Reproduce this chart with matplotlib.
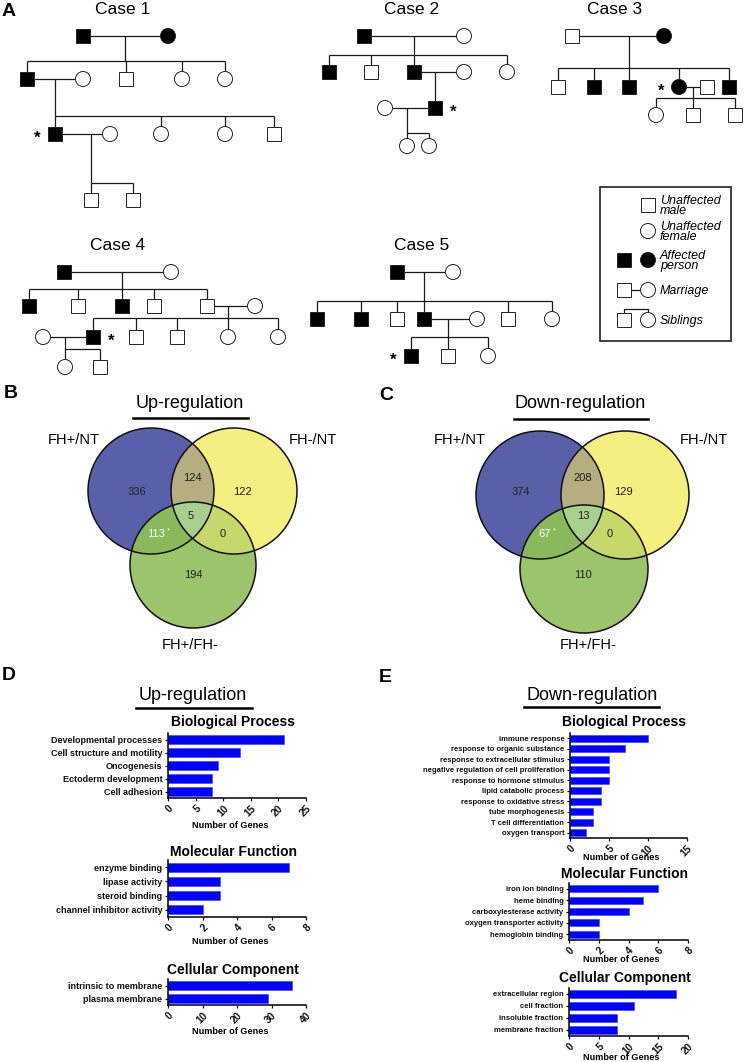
"""Pedigrees (A), Venn diagrams of DEGs (B, C) and GO bar charts (D, E)."""

import numpy as np
import matplotlib
matplotlib.use("Agg")
import matplotlib.pyplot as plt
from matplotlib.patches import Rectangle, Circle, Polygon

plt.rcParams["font.family"] = ["Liberation Sans", "DejaVu Sans"]

W, H = 744, 1062

# ---- pedigrees: (id, x, y, sex, affected); layout in pixels ----
CASE1_PEOPLE = [
    ("I1", 83, 36, "m", 1), ("I2", 168, 36, "f", 1),
    ("II1", 27, 79, "m", 1), ("II2", 83, 79, "f", 0), ("II3", 126, 79, "m", 0),
    ("II4", 182, 79, "f", 0), ("II5", 225, 79, "f", 0),
    ("III1", 55, 134, "m", 1), ("III2", 110, 134, "f", 0), ("III3", 161, 134, "f", 0),
    ("III4", 225, 134, "f", 0), ("III5", 274, 134, "m", 0),
    ("IV1", 91, 200, "m", 0), ("IV2", 133, 200, "m", 0),
]
CASE1_COUPLES = [("I1", "I2"), ("II1", "II2"), ("III1", "III2")]
CASE1_SIBS = [("I1", 61, ["II1", "II3", "II4", "II5"], 125),
              ("II1", 116, ["III1", "III3", "III4", "III5"], 55),
              ("III1", 183, ["IV1", "IV2"], 91)]

CASE2_PEOPLE = [
    ("I1", 364, 36, "m", 1), ("I2", 464, 36, "f", 0),
    ("II1", 329, 72, "m", 1), ("II2", 371, 72, "m", 0), ("II3", 414, 72, "m", 1),
    ("II4", 464, 72, "f", 0), ("II5", 507, 72, "f", 0),
    ("III1", 385, 108, "f", 0), ("III2", 435, 108, "m", 1),
    ("IV1", 407, 146, "f", 0), ("IV2", 429, 146, "f", 0),
]
CASE2_COUPLES = [("I1", "I2"), ("II3", "II4"), ("III1", "III2")]
CASE2_SIBS = [("I1", 55, ["II1", "II2", "II3", "II5"], 414),
              ("II3", 101, ["III2"], 435),
              ("III1", 133, ["IV1", "IV2"], 407)]

CASE3_PEOPLE = [
    ("I1", 572, 36, "m", 0), ("I2", 664, 36, "f", 1),
    ("II1", 558, 87, "m", 0), ("II2", 594, 87, "m", 1), ("II3", 629, 87, "m", 1),
    ("II4", 679, 87, "f", 1), ("II5", 707, 87, "m", 0), ("II6", 729, 87, "m", 1),
    ("III1", 656, 115, "f", 0), ("III2", 693, 115, "m", 0), ("III3", 735, 115, "m", 0),
]
CASE3_COUPLES = [("I1", "I2"), ("II4", "II5")]
CASE3_SIBS = [("I1", 68, ["II1", "II2", "II3", "II4", "II6"], 629),
              ("II4", 98, ["III1", "III2", "III3"], 693)]

CASE4_PEOPLE = [
    ("I1", 64, 272, "m", 1), ("I2", 171, 272, "f", 0),
    ("II1", 29, 306, "m", 1), ("II2", 78, 306, "m", 0), ("II3", 122, 306, "m", 1),
    ("II4", 154, 306, "m", 0), ("II5", 207, 306, "m", 0), ("II6", 255, 306, "f", 0),
    ("III1", 43, 337, "f", 0), ("III2", 93, 337, "m", 1), ("III3", 136, 337, "m", 0),
    ("III4", 177, 337, "m", 0), ("III5", 228, 337, "f", 0), ("III6", 278, 337, "f", 0),
    ("IV1", 65, 367, "f", 0), ("IV2", 100, 367, "m", 0),
]
CASE4_COUPLES = [("I1", "I2"), ("II5", "II6"), ("III1", "III2")]
CASE4_SIBS = [("I1", 289, ["II1", "II2", "II3", "II4", "II5"], 122),
              ("II5", 318, ["III2", "III3", "III4", "III5", "III6"], 228),
              ("III1", 349, ["IV1", "IV2"], 65)]

CASE5_PEOPLE = [
    ("I1", 397, 272, "m", 1), ("I2", 453, 272, "f", 0),
    ("II1", 317, 319, "m", 1), ("II2", 361, 319, "m", 1), ("II3", 397, 319, "m", 0),
    ("II4", 424, 319, "m", 1), ("II5", 477, 319, "f", 0), ("II6", 508, 319, "m", 0),
    ("II7", 552, 319, "f", 0),
    ("III1", 411, 356, "m", 1), ("III2", 448, 356, "m", 0), ("III3", 488, 356, "f", 0),
]
CASE5_COUPLES = [("I1", "I2"), ("II4", "II5")]
CASE5_SIBS = [("I1", 301, ["II1", "II2", "II3", "II4", "II6", "II7"], 424),
              ("II4", 337, ["III1", "III2", "III3"], 448)]

CASE_TITLES = ["Case 1", "Case 2", "Case 3", "Case 4", "Case 5"]
PROBANDS = ["III1", "III2", "II4", "III2", "III1"]
STAR_SIDE = [-1, 1, -1, 1, -1]

LEGEND_LABELS = ["Unaffected\nmale", "Unaffected\nfemale", "Affected\nperson",
                 "Marriage", "Siblings"]

# ---- Venn diagrams ----
SET_NAMES = ["FH+/NT", "FH-/NT", "FH+/FH-"]
REGIONS = ["100", "010", "001", "110", "101", "011", "111"]
UP_COUNTS = [336, 122, 194, 124, 113, 0, 5]
DOWN_COUNTS = [374, 129, 110, 208, 67, 0, 13]
STARRED = "101"

# ---- GO bar charts ----
UP_BP = ["Developmental processes", "Cell structure and motility", "Oncogenesis",
         "Ectoderm development", "Cell adhesion"]
UP_BP_N = [21, 13, 9, 8, 8]
UP_MF = ["enzyme binding", "lipase activity", "steroid binding",
         "channel inhibitor activity"]
UP_MF_N = [7, 3, 3, 2]
UP_CC = ["intrinsic to membrane", "plasma membrane"]
UP_CC_N = [36, 29]

DOWN_BP = ["immune response", "response to organic substance",
           "response to extracellular stimulus",
           "negative regulation of cell proliferation",
           "response to hormone stimulus", "lipid catabolic process",
           "response to oxidative stress", "tube morphogenesis",
           "T cell differentiation", "oxygen transport"]
DOWN_BP_N = [10, 7, 5, 5, 5, 4, 4, 3, 3, 2]
DOWN_MF = ["iron ion binding", "heme binding", "carboxylesterase activity",
           "oxygen transporter activity", "hemoglobin binding"]
DOWN_MF_N = [6, 5, 4, 2, 2]
DOWN_CC = ["extracellular region", "cell fraction", "insoluble fraction",
           "membrane fraction"]
DOWN_CC_N = [18, 11, 8, 8]

fig = plt.figure(figsize=(W / 100, H / 100), dpi=100)
ax = fig.add_axes([0, 0, 1, 1])
ax.set_xlim(0, W)
ax.set_ylim(H, 0)
ax.axis("off")

LINE = dict(color="#1a1a1a", lw=0.9, zorder=1, solid_capstyle="butt")


def symbol(x, y, sex, aff, z=3):
    fc = "black" if aff else "white"
    if sex == "m":
        p = Rectangle((x - 7, y - 7), 14, 14, fc=fc, ec="#222222", lw=0.7, zorder=z)
    else:
        p = Circle((x, y), 7.5, fc=fc, ec="#222222", lw=0.7, zorder=z)
    ax.add_patch(p)


def pedigree(people, couples, sibs, proband, side):
    P = {pid: (x, y, s, a) for pid, x, y, s, a in people}
    for a, b in couples:
        ax.plot([P[a][0], P[b][0]], [P[a][1]] * 2, **LINE)
    for parent, bar_y, kids, drop in sibs:
        ax.plot([drop, drop], [P[parent][1], bar_y], **LINE)
        xs = [P[k][0] for k in kids] + [drop]
        ax.plot([min(xs), max(xs)], [bar_y, bar_y], **LINE)
        for k in kids:
            ax.plot([P[k][0]] * 2, [bar_y, P[k][1]], **LINE)
    for pid, (x, y, s, a) in P.items():
        symbol(x, y, s, a)
    x, y = P[proband][:2]
    ax.text(x + side * 18, y + 4, "*", fontsize=12, fontweight="bold",
            ha="center", va="center")


cases = [(CASE1_PEOPLE, CASE1_COUPLES, CASE1_SIBS),
         (CASE2_PEOPLE, CASE2_COUPLES, CASE2_SIBS),
         (CASE3_PEOPLE, CASE3_COUPLES, CASE3_SIBS),
         (CASE4_PEOPLE, CASE4_COUPLES, CASE4_SIBS),
         (CASE5_PEOPLE, CASE5_COUPLES, CASE5_SIBS)]
title_xy = [(123, 10), (412, 10), (615, 10), (118, 246), (422, 246)]
for (pp, cc, ss), name, pb, sd, (tx, ty) in zip(cases, CASE_TITLES, PROBANDS,
                                                STAR_SIDE, title_xy):
    pedigree(pp, cc, ss, pb, sd)
    ax.text(tx, ty, name, fontsize=12.5, ha="center", va="center")

# legend box
ax.add_patch(Rectangle((600, 187), 131, 154, fill=False, ec="#333333", lw=1.3))
leg_y = [205, 231, 260, 290, 320]
symbol(648, leg_y[0], "m", 0)
symbol(648, leg_y[1], "f", 0)
symbol(624, leg_y[2], "m", 1)
symbol(648, leg_y[2], "f", 1)
ax.plot([624, 648], [leg_y[3]] * 2, **LINE)
symbol(624, leg_y[3], "m", 0)
symbol(648, leg_y[3], "f", 0)
ax.plot([624, 624, 648, 648], [leg_y[4] - 7, leg_y[4] - 11, leg_y[4] - 11,
                                leg_y[4] - 7.5], **LINE)
symbol(624, leg_y[4], "m", 0)
symbol(648, leg_y[4], "f", 0)
for lab, y in zip(LEGEND_LABELS, leg_y):
    ax.text(660, y + 1, lab, fontsize=9, style="italic", ha="left", va="center",
            linespacing=0.85)

# ---- Venn ----
VENN_COLORS = {"100": "#5a5fa9", "010": "#f3ef80", "001": "#9cc46c",
               "110": "#b6ae80", "101": "#89b95a", "011": "#c6d76b",
               "111": "#a9cf8f"}


def lens(circles, n=1500):
    pts = []
    t = np.linspace(0, 2 * np.pi, n, endpoint=False)
    for i, (cx, cy, r) in enumerate(circles):
        p = np.column_stack([cx + r * np.cos(t), cy + r * np.sin(t)])
        keep = np.ones(n, bool)
        for j, (ox, oy, orr) in enumerate(circles):
            if j != i:
                keep &= np.hypot(p[:, 0] - ox, p[:, 1] - oy) <= orr
        pts.append(p[keep])
    pts = np.vstack(pts)
    c = pts.mean(axis=0)
    return pts[np.argsort(np.arctan2(pts[:, 1] - c[1], pts[:, 0] - c[0]))]


def venn(circles, counts, offsets, origin, title, title_xy, ul, name_xy):
    for k, c in enumerate(circles):
        key = "".join("1" if i == k else "0" for i in range(3))
        ax.add_patch(Circle(c[:2], c[2], fc=VENN_COLORS[key], ec="none", zorder=2))
    for key in ["110", "101", "011", "111"]:
        sel = [circles[i] for i in range(3) if key[i] == "1"]
        ax.add_patch(Polygon(lens(sel), closed=True, fc=VENN_COLORS[key],
                             ec="none", zorder=3 if key != "111" else 4))
    for c in circles:
        ax.add_patch(Circle(c[:2], c[2], fill=False, ec="#111111", lw=1.1, zorder=5))
    for key, n, (dx, dy) in zip(REGIONS, counts, offsets):
        x, y = origin[0] + dx, origin[1] + dy
        col = "white" if key == STARRED else "#222222"
        ax.text(x, y, str(n), fontsize=8, ha="center", va="center", color=col,
                zorder=6)
        if key == STARRED:
            ax.text(x + 3.3 * len(str(n)) + 1, y - 3, "*", fontsize=5.5,
                    ha="left", va="center", color=col, zorder=6)
    ax.text(*title_xy, title, fontsize=13, ha="center", va="center")
    ax.plot(ul[:2], [ul[2]] * 2, color="black", lw=1.8)
    for nm, xy in zip(SET_NAMES, name_xy):
        ax.text(*xy, nm, fontsize=10.5, ha="center", va="center")


venn([(151, 491, 63), (234, 491, 63), (193, 565, 63)], UP_COUNTS,
     [(-56, 1), (49, 1), (0, 84), (-1, -13), (-37, 43), (30, 43), (-2, 25)],
     (193, 491), "Up-regulation", (190, 404), (133, 248, 418),
     [(74, 440), (313, 440), (190, 645)])
venn([(540, 495, 64), (625, 495, 64), (584, 569, 64)], DOWN_COUNTS,
     [(-62, -3), (40, -3), (0, 80), (0, -17), (-38, 39), (27, 39), (0, 21)],
     (583, 495), "Down-regulation", (580, 404), (514, 648, 419),
     [(460, 440), (704, 440), (588, 645)])

# panel letters
for lab, (x, y) in zip("ABCDE", [(9, 11), (11, 393), (386, 395), (9, 675), (385, 677)]):
    ax.text(x, y, lab, fontsize=14, fontweight="bold", ha="center", va="center")

# ---- GO bar charts ----
for title, xy, ul in [("Up-regulation", (193, 695), (136, 252, 708)),
                      ("Down-regulation", (592, 695), (524, 659, 707))]:
    ax.text(*xy, title, fontsize=13, ha="center", va="center")
    ax.plot(ul[:2], [ul[2]] * 2, color="black", lw=1.8)


def bars(box, labels, values, title, xmax, step, fs, title_y, xlab_y):
    l, t, r, b = box
    bx = fig.add_axes([l / W, 1 - b / H, (r - l) / W, (b - t) / H])
    bx.patch.set_alpha(0)
    y = np.arange(len(labels))
    bx.barh(y, values, height=0.62, color="#0000ff", edgecolor="#3a3aff", lw=0.4)
    bx.set_ylim(len(labels) - 0.5, -0.5)
    bx.set_xlim(0, xmax)
    bx.set_yticks(y)
    bx.set_yticklabels(labels, fontsize=fs, fontweight="bold")
    ticks = np.arange(0, xmax + step, step)
    bx.set_xticks(ticks)
    bx.set_xticklabels([str(v) for v in ticks], fontsize=7.3, fontweight="bold",
                       rotation=45, ha="right", va="top", rotation_mode="anchor")
    for s in ["top", "right"]:
        bx.spines[s].set_visible(False)
    for s in ["left", "bottom"]:
        bx.spines[s].set_linewidth(1.1)
    bx.tick_params(length=2.5, width=0.9, pad=1.5, colors="#111111")
    cx = (l + r) / 2
    ax.text(cx - 4, title_y, title, fontsize=10, fontweight="bold",
            ha="center", va="center")
    ax.text(cx - 7, xlab_y, "Number of Genes", fontsize=6.6, fontweight="bold",
            ha="center", va="center")


bars((168, 733, 306, 798), UP_BP, UP_BP_N, "Biological Process", 25, 5, 6.5, 722, 825)
bars((168, 860, 306, 917), UP_MF, UP_MF_N, "Molecular Function", 8, 2, 6.5, 852, 942)
bars((168, 979, 306, 1005), UP_CC, UP_CC_N, "Cellular Component", 40, 10, 6.5, 970, 1032)
bars((570, 733, 687, 838), DOWN_BP, DOWN_BP_N, "Biological Process", 15, 5, 5.5, 722, 858)
bars((569, 883, 688, 940), DOWN_MF, DOWN_MF_N, "Molecular Function", 8, 2, 5.5, 874, 960)
bars((569, 988, 688, 1036), DOWN_CC, DOWN_CC_N, "Cellular Component", 20, 5, 5.5, 978, 1057)

fig.savefig("out.png", dpi=100)
